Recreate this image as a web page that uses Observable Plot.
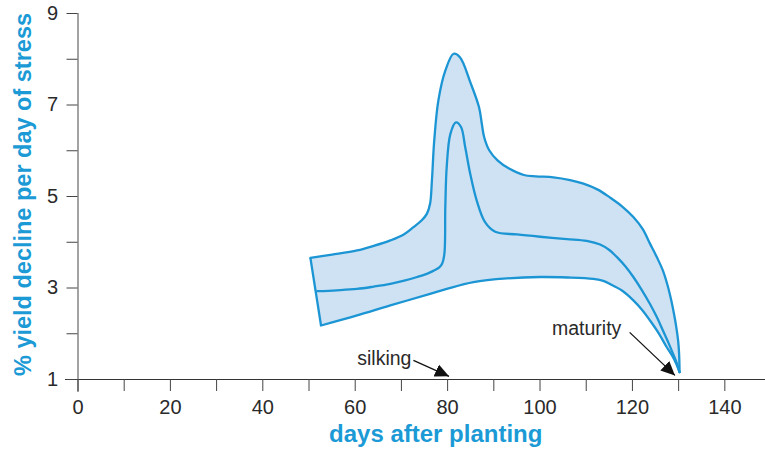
<!DOCTYPE html>
<html>
<head>
<meta charset="utf-8">
<script src="https://cdn.jsdelivr.net/npm/d3@7"></script>
<script src="https://cdn.jsdelivr.net/npm/@observablehq/plot@0.6"></script>
<style>
  html, body { margin: 0; padding: 0; background: #fff; }
  #chart svg { display: block; }
</style>
</head>
<body>
<div id="chart"></div>
<script>
// ---- data (days after planting, % yield decline per day of stress) ----
const upperX = [50.3, 55.0, 60.4, 64.0, 67.6, 70.5, 72.6, 74.4, 75.5, 76.2, 76.6, 77.1, 78.0, 79.5, 81.3, 82.7, 84.9, 86.8, 87.4, 87.9, 89.0, 90.8, 93.3, 96.5, 99.1, 102.9, 106.5, 109.4, 112.5, 115.1, 117.8, 120.2, 122.2, 123.8, 125.3, 126.6, 127.6, 128.4, 129.0, 129.5, 129.9, 130.1, 130.2];
const upperY = [3.66, 3.73, 3.82, 3.92, 4.04, 4.17, 4.33, 4.48, 4.62, 4.84, 5.35, 6.22, 7.10, 7.75, 8.12, 8.04, 7.50, 6.95, 6.59, 6.30, 6.01, 5.79, 5.61, 5.47, 5.44, 5.42, 5.36, 5.28, 5.15, 4.98, 4.78, 4.55, 4.29, 3.97, 3.67, 3.38, 3.06, 2.73, 2.43, 2.14, 1.84, 1.56, 1.16];

const middleX = [51.8, 56.0, 60.4, 64.0, 67.6, 70.6, 73.4, 75.5, 77.0, 78.2, 78.8, 79.3, 79.5, 79.8, 80.6, 81.8, 82.9, 83.8, 84.9, 86.3, 88.1, 90.3, 95.0, 100.0, 105.8, 110.1, 113.0, 115.0, 116.6, 118.5, 120.2, 122.0, 123.8, 125.3, 126.6, 127.8, 128.8, 129.6, 130.2];
const middleY = [2.93, 2.95, 2.98, 3.03, 3.09, 3.16, 3.24, 3.31, 3.38, 3.45, 3.53, 3.75, 4.77, 5.64, 6.37, 6.62, 6.52, 6.08, 5.49, 4.91, 4.44, 4.23, 4.17, 4.12, 4.07, 4.03, 3.95, 3.83, 3.68, 3.47, 3.24, 2.96, 2.65, 2.36, 2.07, 1.80, 1.56, 1.36, 1.16];

const lowerX = [52.6, 60.4, 67.6, 76.2, 79.8, 85.6, 92.8, 100.0, 106.0, 111.5, 113.5, 115.1, 117.8, 120.2, 122.1, 123.8, 125.7, 127.4, 128.6, 129.5, 130.2];
const lowerY = [2.18, 2.40, 2.62, 2.87, 2.98, 3.13, 3.21, 3.24, 3.23, 3.20, 3.16, 3.09, 2.94, 2.73, 2.52, 2.29, 2.01, 1.71, 1.52, 1.34, 1.16];

const xTicks = [0, 10, 20, 30, 40, 50, 60, 70, 80, 90, 100, 110, 120, 130, 140];
const xTickLabels = [0, 20, 40, 60, 80, 100, 120, 140];
const yTicks = [1, 2, 3, 4, 5, 6, 7, 8, 9];
const yTickLabels = [1, 3, 5, 7, 9];

const annotationNames = ["silking", "maturity"];
const annotationTextX = [66.3, 110.1];
const annotationTextY = [1.46, 2.11];
const annotationFromX = [72.6, 119.4];
const annotationFromY = [1.42, 2.03];
const annotationToX = [80.3, 129.2];
const annotationToY = [1.07, 1.09];

const xLabel = "days after planting";
const yLabel = "% yield decline per day of stress";

// ---- build tables ----
const upper = upperX.map((x, i) => ({x, y: upperY[i]}));
const middle = middleX.map((x, i) => ({x, y: middleY[i]}));
const lower = lowerX.map((x, i) => ({x, y: lowerY[i]}));
const band = upper.concat(lower.slice(0, -1).reverse());
const leftEdge = [{x1: upper[0].x, y1: upper[0].y, x2: lower[0].x, y2: lower[0].y}];
const annotations = annotationNames.map((name, i) => ({
  name,
  tx: annotationTextX[i], ty: annotationTextY[i],
  x1: annotationFromX[i], y1: annotationFromY[i],
  x2: annotationToX[i], y2: annotationToY[i]
}));

const BLUE = "#1b95d3";
const FILL = "#cee2f4";
const INK = "#2a2a2a";

function filledArrow(color, context) {
  const m = d3.create("svg:marker")
    .attr("viewBox", "-14 -7 14 14")
    .attr("markerWidth", 14)
    .attr("markerHeight", 14)
    .attr("refX", 0)
    .attr("refY", 0)
    .attr("orient", "auto")
    .attr("markerUnits", "userSpaceOnUse");
  m.append("path").attr("d", "M-14,-6.5L0,0L-14,6.5Z").attr("fill", "#111").attr("stroke", "none");
  return m.node();
}

const chart = Plot.plot({
  width: 765,
  height: 457,
  marginLeft: 77.5,
  marginRight: 0,
  marginTop: 13,
  marginBottom: 78,
  style: {fontFamily: "'Liberation Sans', Arial, Helvetica, sans-serif", background: "#fff"},
  x: {domain: [0, 148.8]},
  y: {domain: [1, 9]},
  marks: [
    // band
    Plot.line(band, {x: "x", y: "y", curve: "catmull-rom", fill: FILL, stroke: "none"}),
    // axes
    Plot.ruleY([1], {x1: -2.7, x2: 148.8, stroke: "#333", strokeWidth: 1.2}),
    Plot.ruleX([0], {y1: 0.716, y2: 9, stroke: "#666", strokeWidth: 1.2}),
    Plot.axisX({ticks: xTicks, tickSize: 12, tickPadding: 8, fontSize: 20, color: INK,
      tickFormat: d => xTickLabels.includes(d) ? String(d) : "", label: null, stroke: "#444"}),
    Plot.axisY({ticks: yTicks, tickSize: 11, tickPadding: 9, fontSize: 20, color: INK,
      tickFormat: d => yTickLabels.includes(d) ? String(d) : "", label: null, stroke: "#444"}),
    // curves
    Plot.line(upper, {x: "x", y: "y", curve: "catmull-rom", stroke: BLUE, strokeWidth: 2.3}),
    Plot.line(middle, {x: "x", y: "y", curve: "catmull-rom", stroke: BLUE, strokeWidth: 2.3}),
    Plot.line(lower, {x: "x", y: "y", curve: "catmull-rom", stroke: BLUE, strokeWidth: 2.3}),
    Plot.link(leftEdge, {x1: "x1", y1: "y1", x2: "x2", y2: "y2", stroke: BLUE, strokeWidth: 2.3}),
    // annotations
    Plot.link(annotations, {x1: "x1", y1: "y1", x2: "x2", y2: "y2", stroke: "#111", strokeWidth: 1.3, markerEnd: filledArrow}),
    Plot.text(annotations, {x: "tx", y: "ty", text: "name", fontSize: 19.5, fill: INK}),
    // axis titles
    Plot.text([xLabel], {frameAnchor: "bottom", dx: 14, dy: 62.5, fontSize: 24, fontWeight: "bold", fill: "#1b9ad6"}),
    Plot.text([yLabel], {frameAnchor: "left", textAnchor: "middle", rotate: -90, dx: -55, dy: -2, fontSize: 23.5, fontWeight: "bold", fill: "#1b9ad6"})
  ]
});

document.getElementById("chart").appendChild(chart);
</script>
</body>
</html>
